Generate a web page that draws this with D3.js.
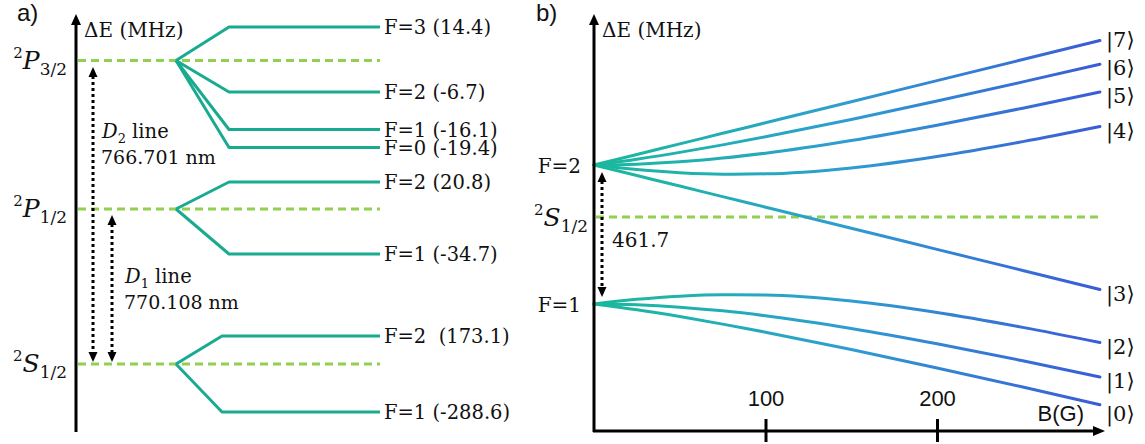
<!DOCTYPE html>
<html><head><meta charset="utf-8">
<script src="https://cdn.jsdelivr.net/npm/d3@7"></script>
<style>
body{margin:0;background:#fff;}
svg{display:block;}
.serif{font-family:"DejaVu Serif","Liberation Serif",serif;fill:#111;}
.sans{font-family:"Liberation Sans",Arial,sans-serif;fill:#111;}
</style></head><body>
<svg id="chart" width="1145" height="444"></svg>
<script>
// ---------------- data: panel a) fine / hyperfine structure ----------------
const manifolds = ["P3/2", "P1/2", "S1/2"];
const manifoldLetter = ["P", "P", "S"];
const manifoldJ = ["3/2", "1/2", "1/2"];
const p32F = [3, 2, 1, 0];
const p32E = [14.4, -6.7, -16.1, -19.4];
const p12F = [2, 1];
const p12E = [20.8, -34.7];
const s12F = [2, 1];
const s12E = [173.1, -288.6];
const dLineIndex = ["2", "1"];
const dLineWavelength = ["766.701", "770.108"];

// ---------------- data: panel b) ground-state Zeeman (Breit–Rabi) ----------------
const fieldB = [0, 25, 50, 75, 100, 150, 200, 250, 295];
const state7 = [173.1, 208.2, 243.2, 278.3, 313.3, 383.3, 453.4, 523.5, 586.5];
const state6 = [173.1, 192.5, 215.0, 240.0, 266.8, 324.4, 385.6, 449.1, 507.6];
const state5 = [173.1, 175.8, 183.5, 196.0, 212.3, 254.5, 305.4, 361.8, 415.8];
const state4 = [173.1, 157.8, 147.3, 142.5, 143.7, 163.5, 201.4, 250.8, 301.1];
const state3 = [173.1, 138.1, 103.1, 68.0, 33.0, -37.0, -107.1, -177.2, -240.2];
const state2 = [-288.6, -273.2, -262.7, -257.9, -259.1, -278.9, -316.8, -366.2, -416.5];
const state1 = [-288.6, -291.2, -299.0, -311.4, -327.8, -369.9, -420.8, -477.2, -531.2];
const state0 = [-288.6, -307.9, -330.4, -355.4, -382.2, -439.8, -501.0, -564.5, -623.0];
const stateLabels = ["|0⟩", "|1⟩", "|2⟩", "|3⟩", "|4⟩", "|5⟩", "|6⟩", "|7⟩"];
const groundF = [2, 1];
const groundE = [173.1, -288.6];
const hfsSplitting = "461.7";
const bTicks = [100, 200];

// ---------------- styles ----------------
const TEAL = "#19ab90", GREEN = "#92d050", BLACK = "#000";
const svg = d3.select("#chart");

function tri(g, x, y, dir, w, h) { // arrowhead tip at (x,y)
  let p;
  if (dir === "up") p = [[x, y], [x - w / 2, y + h], [x + w / 2, y + h]];
  else if (dir === "down") p = [[x, y], [x - w / 2, y - h], [x + w / 2, y - h]];
  else p = [[x, y], [x - h, y - w / 2], [x - h, y + w / 2]];
  g.append("path").attr("d", d3.line()(p) + "Z").attr("fill", BLACK);
}
function termLabel(g, x, y, letter, j, sizes) {
  const t = g.append("text").attr("class", "serif").attr("x", x).attr("y", y).attr("text-anchor", "end");
  t.append("tspan").attr("font-size", sizes[0]).attr("dy", -11).text("2");
  t.append("tspan").attr("font-size", sizes[1]).attr("font-style", "italic").attr("dy", 11).text(letter);
  t.append("tspan").attr("font-size", sizes[2]).attr("dy", 6).text(j);
}

// ================= panel a =================
const A = svg.append("g");
A.append("text").attr("class", "sans").attr("x", 17).attr("y", 21).attr("font-size", 24).text("a)");

// energy axis
A.append("line").attr("x1", 76).attr("x2", 76).attr("y1", 432).attr("y2", 22).attr("stroke", BLACK).attr("stroke-width", 3);
tri(A, 76, 14, "up", 10, 11);
A.append("text").attr("class", "serif").attr("x", 84).attr("y", 37).attr("font-size", 20).text("ΔE (MHz)");

const yMan = d3.scaleOrdinal().domain(manifolds).range([60.5, 209, 364]);
const manifoldLevels = [
  {F: p32F, E: p32E, off: d3.scaleLinear().domain([-19.4, -16.1, -6.7, 0, 14.4]).range([87, 69, 31.5, 0, -33.5]), corner: 229},
  {F: p12F, E: p12E, off: d3.scaleLinear().domain([-34.7, 0, 20.8]).range([45, 0, -27]), corner: 229},
  {F: s12F, E: s12E, off: d3.scaleLinear().domain([-288.6, 0, 173.1]).range([48, 0, -28]), corner: 222}
];
const splitX = 176, levelEnd = 380;

manifolds.forEach((m, i) => {
  const yc = yMan(m);
  A.append("line").attr("x1", 78).attr("x2", levelEnd).attr("y1", yc).attr("y2", yc)
    .attr("stroke", GREEN).attr("stroke-width", 3).attr("stroke-dasharray", "8,5");
  termLabel(A, 67, yc + 8, manifoldLetter[i], manifoldJ[i], [15, 25, 17]);
  const L = manifoldLevels[i];
  L.E.forEach((e, k) => {
    const y = yc + L.off(e);
    A.append("path").attr("d", d3.line()([[splitX, yc], [L.corner, y], [levelEnd, y]]))
      .attr("fill", "none").attr("stroke", TEAL).attr("stroke-width", 3).attr("stroke-linejoin", "round");
    const gap = (Math.abs(e) >= 100 && e > 0) ? "  " : " ";
    A.append("text").attr("class", "serif").attr("x", 384).attr("y", y + 7).attr("font-size", 19.5)
      .attr("xml:space", "preserve").style("white-space", "pre")
      .text(`F=${L.F[k]}${gap}(${e.toFixed(1)})`);
  });
});

// D lines (dotted double arrows)
const dArrows = [
  {x: 93, top: yMan("P3/2") + 6.5, bot: yMan("S1/2") - 2, tx: 102, ty: 138},
  {x: 112, top: yMan("P1/2") + 6, bot: yMan("S1/2") - 2, tx: 125, ty: 283}
];
dArrows.forEach((d, i) => {
  A.append("line").attr("x1", d.x).attr("x2", d.x).attr("y1", d.top + 9).attr("y2", d.bot - 9)
    .attr("stroke", BLACK).attr("stroke-width", 3).attr("stroke-dasharray", "3,3");
  tri(A, d.x, d.top, "up", 9, 10);
  tri(A, d.x, d.bot, "down", 9, 10);
  const t = A.append("text").attr("class", "serif").attr("x", d.tx).attr("y", d.ty).attr("font-size", 19.5);
  t.append("tspan").attr("font-style", "italic").text("D");
  t.append("tspan").attr("font-size", 13).attr("dy", 5).text(dLineIndex[i]);
  t.append("tspan").attr("dy", -5).text(" line");
  A.append("text").attr("class", "serif").attr("x", d.tx - 1).attr("y", d.ty + 26).attr("font-size", 19)
    .text(dLineWavelength[i] + " nm");
});

// ================= panel b =================
const B = svg.append("g");
B.append("text").attr("class", "sans").attr("x", 536).attr("y", 21).attr("font-size", 24).text("b)");

const xB = d3.scaleLinear().domain([0, 200]).range([594, 937]);
const yE = d3.scaleLinear().domain([-288.6, 173.1]).range([304, 165]);
const bMax = d3.max(fieldB);

// gradient for Zeeman curves
const grad = svg.append("defs").append("linearGradient").attr("id", "zg")
  .attr("gradientUnits", "userSpaceOnUse").attr("x1", xB(0)).attr("x2", xB(bMax)).attr("y1", 0).attr("y2", 0);
[[0, "#1bb89b"], [0.18, "#1fb2ad"], [0.5, "#2e9dd1"], [1, "#3a5bd8"]].forEach(s =>
  grad.append("stop").attr("offset", s[0]).attr("stop-color", s[1]));

// S1/2 centre line
B.append("line").attr("x1", 596).attr("x2", xB(bMax)).attr("y1", yE(0)).attr("y2", yE(0))
  .attr("stroke", GREEN).attr("stroke-width", 3).attr("stroke-dasharray", "8,5");

// curves
const states = [state0, state1, state2, state3, state4, state5, state6, state7];
const line = d3.line().x((d, i) => xB(fieldB[i])).y(d => yE(d)).curve(d3.curveMonotoneX);
states.forEach(s => {
  B.append("path").attr("d", line(s)).attr("fill", "none")
    .attr("stroke", "url(#zg)").attr("stroke-width", 3).attr("stroke-linecap", "round");
});

// axes
B.append("line").attr("x1", 594).attr("x2", 594).attr("y1", 432).attr("y2", 22).attr("stroke", BLACK).attr("stroke-width", 3);
tri(B, 594, 14, "up", 10, 11);
B.append("line").attr("x1", 593).attr("x2", 1094).attr("y1", 431).attr("y2", 431).attr("stroke", BLACK).attr("stroke-width", 3);
tri(B, 1105, 431, "right", 10, 12);
const ax = B.append("g").attr("transform", "translate(0,431)")
  .call(d3.axisBottom(xB).tickValues(bTicks).tickSize(0).tickPadding(0));
ax.select(".domain").remove();
ax.selectAll(".tick line").attr("y1", -12).attr("y2", 11).attr("stroke", BLACK).attr("stroke-width", 3);
ax.selectAll(".tick text").attr("class", "sans").attr("y", -25).attr("dy", 0)
  .attr("font-size", 22).attr("font-family", "Liberation Sans, Arial, sans-serif").attr("fill", "#111");
B.append("text").attr("class", "sans").attr("x", 1084).attr("y", 421).attr("text-anchor", "end").attr("font-size", 22).text("B(G)");

B.append("text").attr("class", "serif").attr("x", 602).attr("y", 37).attr("font-size", 20).text("ΔE (MHz)");

// F labels and term label
groundF.forEach((f, i) => {
  B.append("text").attr("class", "serif").attr("x", 581).attr("y", yE(groundE[i]) + 8).attr("font-size", 20)
    .attr("text-anchor", "end").text(`F=${f}`);
});
termLabel(B, 588, yE(0) + 9, "S", "1/2", [15, 25, 17]);

// hyperfine splitting arrow
const hx = 602;
B.append("line").attr("x1", hx).attr("x2", hx).attr("y1", yE(groundE[0]) + 16).attr("y2", yE(groundE[1]) - 16)
  .attr("stroke", BLACK).attr("stroke-width", 3).attr("stroke-dasharray", "3,3");
tri(B, hx, yE(groundE[0]) + 7, "up", 9, 10);
tri(B, hx, yE(groundE[1]) - 7, "down", 9, 10);
B.append("text").attr("class", "serif").attr("x", 612).attr("y", 247).attr("font-size", 20).text(hfsSplitting);

// state labels with simple collision handling
const ends = states.map(s => yE(s[s.length - 1]) + 4);
const centers = ends.slice();
for (let i = 2; i >= 0; i--) centers[i] = Math.max(ends[i], centers[i + 1] + 33); // lower group: push down
for (let i = 5; i <= 7; i++) centers[i] = Math.min(ends[i], centers[i - 1] - 28); // upper group: push up
stateLabels.forEach((lab, i) => {
  B.append("text").attr("class", "serif").attr("x", 1106).attr("y", centers[i]).attr("dy", "0.35em")
    .attr("font-size", 21).text(lab);
});
</script>
</body></html>
